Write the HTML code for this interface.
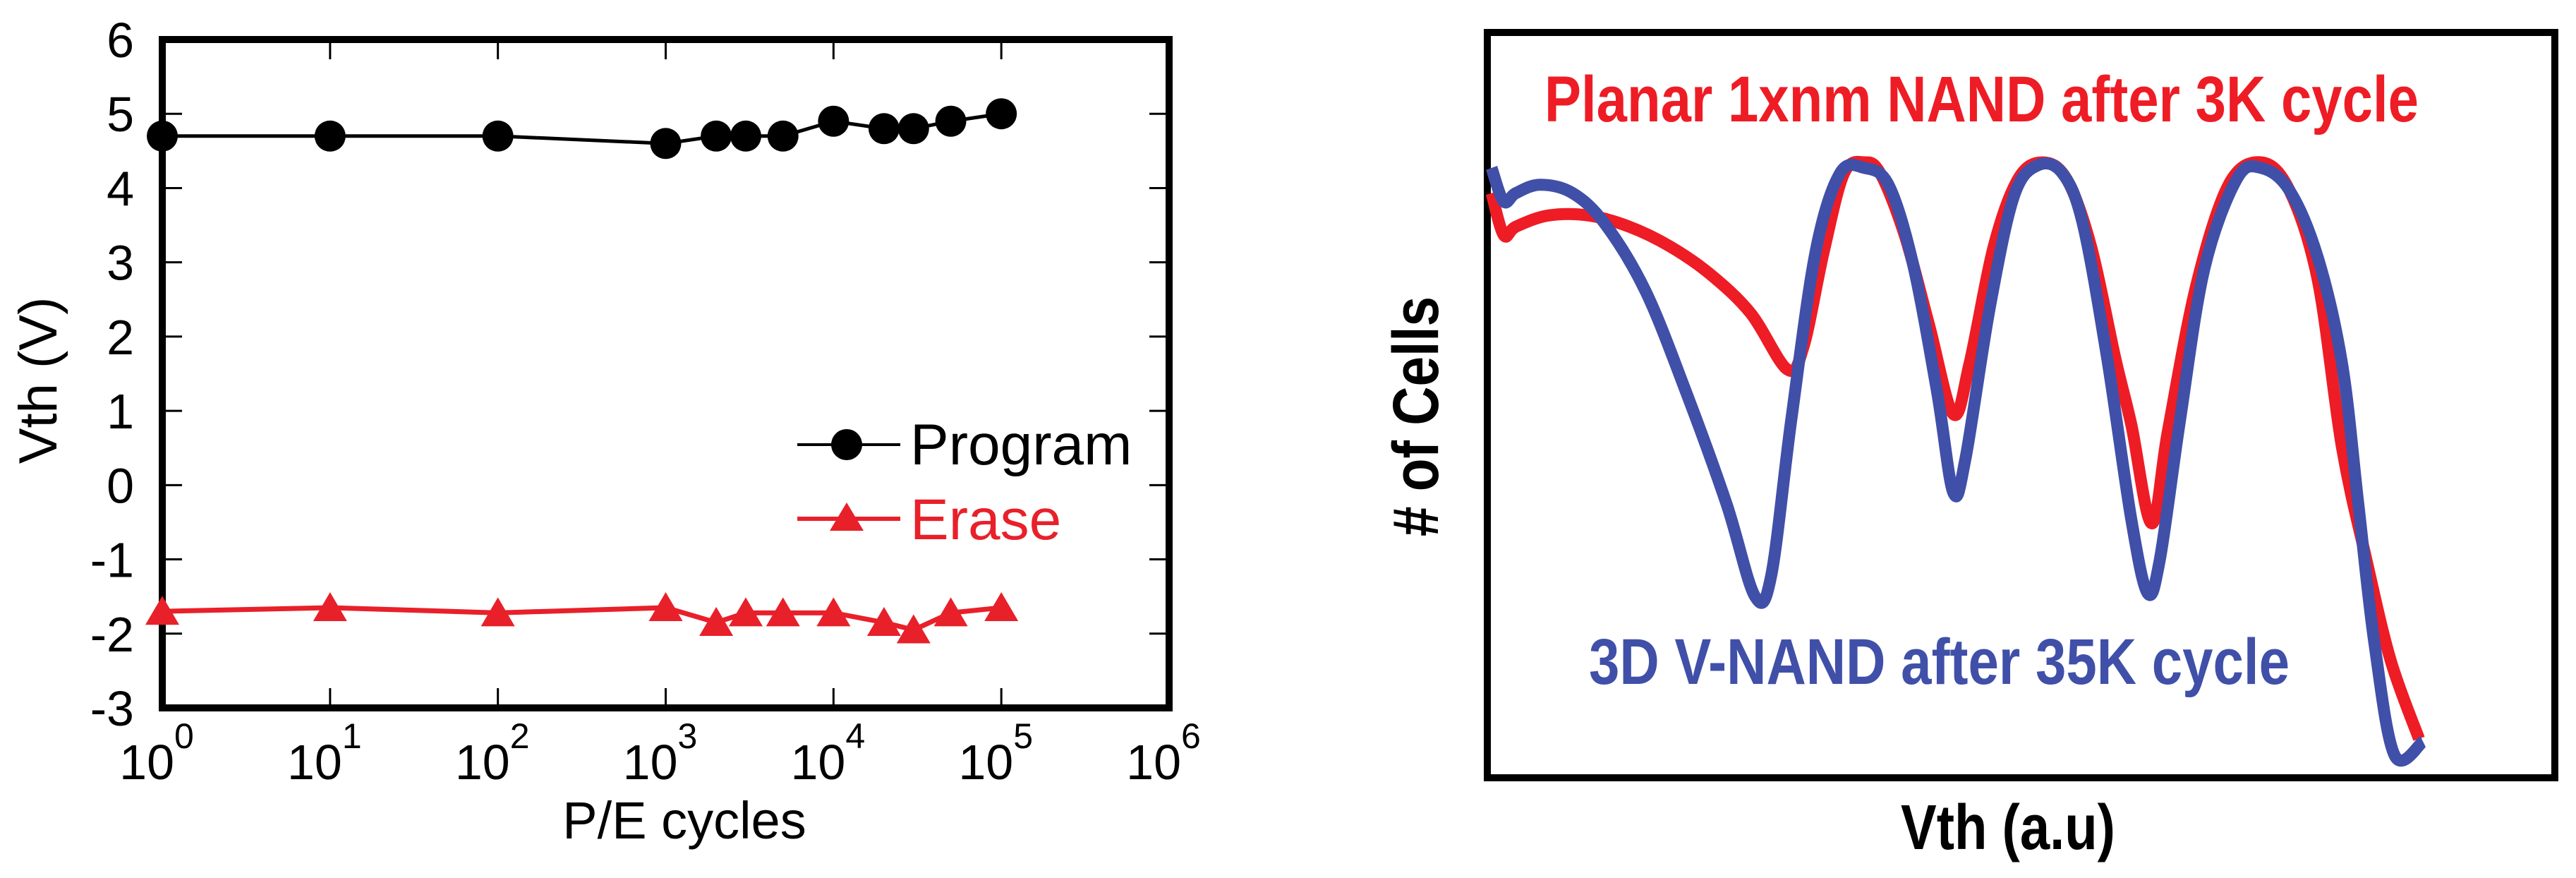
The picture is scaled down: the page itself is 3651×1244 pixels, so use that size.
<!DOCTYPE html>
<html><head><meta charset="utf-8"><style>
html,body{margin:0;padding:0;background:#fff;}
svg{display:block;font-family:"Liberation Sans",Arial,sans-serif;}
</style></head><body>
<svg id="s" width="3651" height="1244" viewBox="0 0 3651 1244">
<g id="left"></g>
<g id="right"></g>
</svg>
<script>
const NS="http://www.w3.org/2000/svg";
// ---- Left chart data ----
const cycles=[1,10,100,1000,2000,3000,5000,10000,20000,30000,50000,100000];
const programVth=[4.7,4.7,4.7,4.6,4.7,4.7,4.7,4.9,4.8,4.8,4.9,5.0];
const eraseVth=[-1.7,-1.65,-1.72,-1.65,-1.85,-1.72,-1.72,-1.72,-1.85,-1.95,-1.72,-1.65];
const yTicks=[6,5,4,3,2,1,0,-1,-2,-3];
const xExps=[0,1,2,3,4,5,6];
// ---- Right chart data (a.u.) ----
const planarVth=[230,245,260,300,350,400,450,500,550,595,615,640,665,690,710,740,770,800,820,850,880,910,940,970,1000,1020,1045,1065,1100,1140,1180,1215,1250,1280,1310,1340,1375];
const planarCells=[345,420,405,385,385,405,440,490,560,660,620,450,310,290,310,420,580,740,650,440,320,290,320,440,640,760,935,770,510,330,290,340,500,800,1000,1180,1320];
const vnandVth=[230,245,260,290,330,370,420,470,520,555,575,600,630,660,690,720,750,780,800,815,845,875,905,935,960,990,1020,1040,1055,1080,1110,1150,1180,1215,1250,1280,1300,1320,1345,1380];
const vnandCells=[300,360,345,330,345,400,520,700,900,1065,1030,750,450,310,300,330,470,700,880,820,550,350,295,310,400,640,930,1060,1000,750,480,320,300,340,460,650,900,1150,1350,1325];

function el(p,tag,attrs,text){const e=document.createElementNS(NS,tag);for(const k in attrs)e.setAttribute(k,attrs[k]);if(text!==undefined)e.textContent=text;p.appendChild(e);return e;}

// Left axes
const L={x0:230,x1:1657,y0:56,y1:1003};
const xs=v=>L.x0+(Math.log10(v)/6)*(L.x1-L.x0);
const ys=v=>L.y0+(6-v)/9*(L.y1-L.y0);
const g=document.getElementById('left');
el(g,'rect',{x:L.x0,y:L.y0,width:L.x1-L.x0,height:L.y1-L.y0,fill:'none',stroke:'#000','stroke-width':10,});
yTicks.forEach(t=>{
 const y=ys(t);
 const a=el(g,'path',{d:`M${L.x0} ${y}h28M${L.x1} ${y}h-28`,stroke:'#000','stroke-width':3});
 
 const tx=el(g,'text',{x:190,y:y+25,'text-anchor':'end','font-size':70},String(t));
 
});
xExps.forEach(e=>{
 const x=xs(Math.pow(10,e));
 const a=el(g,'path',{d:`M${x} ${L.y0}v28M${x} ${L.y1}v-28`,stroke:'#000','stroke-width':3});
 
 const tx=el(g,'text',{x:x-8,y:1104,'text-anchor':'middle','font-size':70});
 
 tx.textContent='10';
 el(tx,'tspan',{dy:-44,'font-size':50},String(e));
});
const xt=el(g,'text',{x:970,y:1188,'text-anchor':'middle','font-size':74},'P/E cycles');

const yt=el(g,'text',{x:0,y:0,'text-anchor':'middle','font-size':76,transform:'translate(80 539) rotate(-90)'},'Vth (V)');

function poly(vals,color,name){const pts=cycles.map((c,i)=>xs(c)+','+ys(vals[i])).join(' ');const p=el(g,'polyline',{points:pts,fill:'none',stroke:color,'stroke-width':color=='#000'?5:7});}
poly(programVth,'#000','program-line');
poly(eraseVth,'#e8202a','erase-line');
function tri(cx,cy,c){return el(g,'polygon',{points:`${cx},${cy-22} ${cx-24},${cy+19} ${cx+24},${cy+19}`,fill:c});}
cycles.forEach((c,i)=>{
 const m=el(g,'circle',{cx:xs(c),cy:ys(programVth[i]),r:22,fill:'#000'});
 
 const t=tri(xs(c),ys(eraseVth[i]),'#e8202a');
 
});
const lg=el(g,'g',{});
el(lg,'line',{x1:1130,y1:630,x2:1276,y2:630,stroke:'#000','stroke-width':4});
el(lg,'circle',{cx:1200,cy:630,r:22,fill:'#000'});
const t1=el(lg,'text',{x:1290,y:658,'font-size':82},'Program');
el(lg,'line',{x1:1130,y1:735,x2:1276,y2:735,stroke:'#e8202a','stroke-width':6});
el(lg,'polygon',{points:'1200,712 1176,752 1224,752',fill:'#e8202a'});
const t2=el(lg,'text',{x:1290,y:764,'font-size':82,fill:'#e8202a'},'Erase');

// Right chart
const R=document.getElementById('right');
const rx=v=>1850+v*1.148, ry=v=>v*0.793;
el(R,'rect',{x:2108,y:46,width:1513,height:1056,fill:'none',stroke:'#000','stroke-width':10,});
function smooth(xa,ya){const P=xa.map((x,i)=>[rx(x),ry(ya[i])]);let d=`M${P[0][0]} ${P[0][1]}`;for(let i=0;i<P.length-1;i++){const p0=P[Math.max(i-1,0)],p1=P[i],p2=P[i+1],p3=P[Math.min(i+2,P.length-1)];d+=`C${p1[0]+(p2[0]-p0[0])/6} ${p1[1]+(p2[1]-p0[1])/6} ${p2[0]-(p3[0]-p1[0])/6} ${p2[1]-(p3[1]-p1[1])/6} ${p2[0]} ${p2[1]}`;}return d;}
const c1=el(R,'path',{d:smooth(planarVth,planarCells),fill:'none',stroke:'#ee1c25','stroke-width':17,'stroke-linejoin':'round'});

const c2=el(R,'path',{d:smooth(vnandVth,vnandCells),fill:'none',stroke:'#4050a8','stroke-width':17,'stroke-linejoin':'round'});

const l1=el(R,'text',{x:2189,y:172,'font-size':92,'font-weight':'bold',fill:'#ee1c25',textLength:1239,lengthAdjust:'spacingAndGlyphs'},'Planar 1xnm NAND after 3K cycle');

const l2=el(R,'text',{x:2252,y:969,'font-size':92,'font-weight':'bold',fill:'#4050a8',textLength:993,lengthAdjust:'spacingAndGlyphs'},'3D V-NAND after 35K cycle');

const ra=el(R,'text',{x:0,y:0,'text-anchor':'middle','font-size':92,'font-weight':'bold',textLength:340,lengthAdjust:'spacingAndGlyphs',transform:'translate(2038 590) rotate(-90)'},'# of Cells');

const rb=el(R,'text',{x:2694,y:1203,'font-size':90,'font-weight':'bold',textLength:304,lengthAdjust:'spacingAndGlyphs'},'Vth (a.u)');

</script>
</body></html>
